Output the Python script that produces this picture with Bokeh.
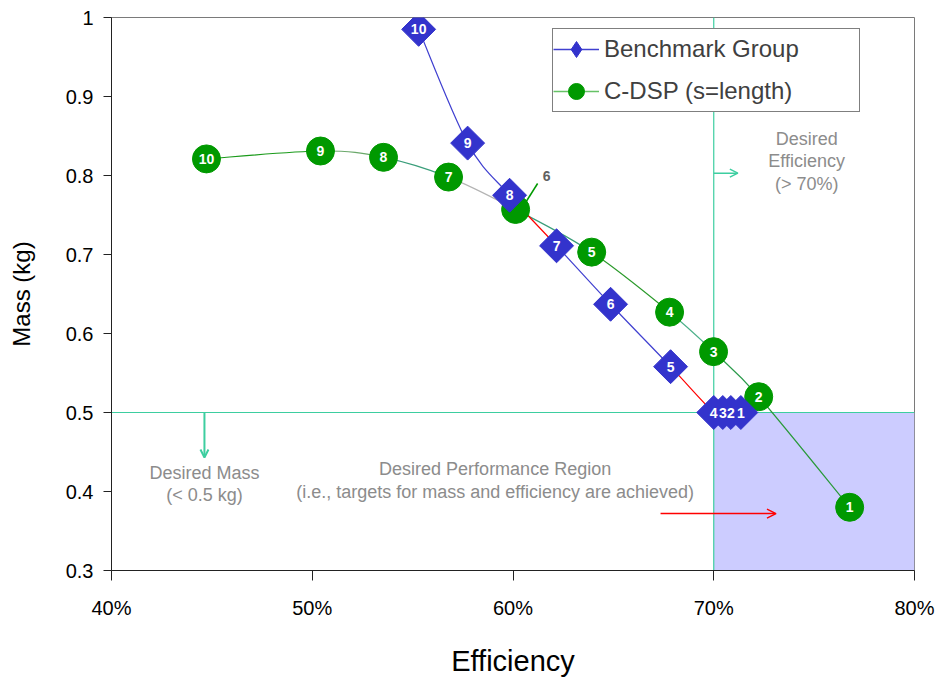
import numpy as np
from bokeh.plotting import figure
from bokeh.models import (ColumnDataSource, Span, Label, Arrow, OpenHead, Legend,
                          LegendItem, FixedTicker, BoxAnnotation)
from bokeh.embed import file_html
from bokeh.resources import INLINE
from bokeh.core.properties import value

# ---------------- data ----------------
bench_labels = ["1", "2", "3", "4", "5", "6", "7", "8", "9", "10"]
bench_eff = [71.35, 70.85, 70.45, 70.00, 67.85, 64.86, 62.17, 59.83, 57.74, 55.30]
bench_mass = [0.500, 0.500, 0.500, 0.500, 0.558, 0.637, 0.711, 0.775, 0.841, 0.985]

cdsp_labels = ["1", "2", "3", "4", "5", "6", "7", "8", "9", "10"]
cdsp_eff = [76.77, 72.24, 69.99, 67.80, 63.92, 60.13, 56.79, 53.55, 50.41, 44.73]
cdsp_mass = [0.380, 0.520, 0.577, 0.627, 0.703, 0.757, 0.798, 0.823, 0.831, 0.821]

x_ticks = [40, 50, 60, 70, 80]
x_tick_labels = ["40%", "50%", "60%", "70%", "80%"]
y_ticks = [0.3, 0.4, 0.5, 0.6, 0.7, 0.8, 0.9, 1.0]
y_tick_labels = ["0.3", "0.4", "0.5", "0.6", "0.7", "0.8", "0.9", "1"]

target_eff = 70.0
target_mass = 0.5

# styles
BLUE = "#3333cc"
BLUE_LINE = "#4040d0"
RED = "#ff0000"
GREEN = "#009900"
TEAL = "#3dcea0"
GRAY_TXT = "#8c8c8c"
bench_seg_colors = [BLUE_LINE, BLUE_LINE, BLUE_LINE, RED, BLUE_LINE, BLUE_LINE, RED, BLUE_LINE, BLUE_LINE]
cdsp_seg_colors = ["#2a9a3a", "#2a9a4a", "#4cb08a", "#2a9a2a", "#3a9e7a", "#b4b4b4",
                   "#3a9e7a", "#6aa86a", "#1a9a1a"]
FONT_NAME = "Liberation Sans"
FONT = value(FONT_NAME)

W, H = 943, 679
ML, MR, MT, MB = 111, 29, 17, 108
FW, FH = W - ML - MR, H - MT - MB
XR, YR = (40, 80), (0.3, 1.0)
dux = (XR[1] - XR[0]) / FW
duy = (YR[1] - YR[0]) / FH


def smooth_segments(xs, ys, colors):
    x = np.asarray(xs, float)
    y = np.asarray(ys, float)
    n = len(x)
    xp = np.concatenate([[x[0]], x, [x[-1]]])
    yp = np.concatenate([[y[0]], y, [y[-1]]])
    i = np.arange(n - 1)
    return ColumnDataSource(dict(
        x0=x[i], y0=y[i], x1=x[i + 1], y1=y[i + 1],
        cx0=x[i] + (xp[i + 2] - xp[i]) / 6, cy0=y[i] + (yp[i + 2] - yp[i]) / 6,
        cx1=x[i + 1] - (xp[i + 3] - xp[i + 1]) / 6, cy1=y[i + 1] - (yp[i + 3] - yp[i + 1]) / 6,
        color=colors))


p = figure(width=W, height=H, x_range=XR, y_range=YR, output_backend="svg",
           toolbar_location=None, min_border_left=ML, min_border_right=MR,
           min_border_top=MT, min_border_bottom=MB, background_fill_color="white",
           border_fill_color="white")
p.grid.visible = False
p.outline_line_color = "#7a7a7a"
p.outline_line_width = 1

# desired region and thresholds
p.add_layout(BoxAnnotation(left=target_eff, right=XR[1], bottom=YR[0], top=target_mass,
                           fill_color="#ccccff", fill_alpha=1.0, line_color=None, level="underlay"))
p.add_layout(Span(location=target_mass, dimension="width", line_color=TEAL, line_width=1.2,
                  level="underlay"))
p.add_layout(Span(location=target_eff, dimension="height", line_color=TEAL, line_width=1.2,
                  level="underlay"))

# smoothed connecting lines
p.bezier(x0="x0", y0="y0", x1="x1", y1="y1", cx0="cx0", cy0="cy0", cx1="cx1", cy1="cy1",
         line_color="color", line_width=1.2, source=smooth_segments(cdsp_eff, cdsp_mass, cdsp_seg_colors))
p.bezier(x0="x0", y0="y0", x1="x1", y1="y1", cx0="cx0", cy0="cy0", cx1="cx1", cy1="cy1",
         line_color="color", line_width=1.2, source=smooth_segments(bench_eff, bench_mass, bench_seg_colors))

# leader line for C-DSP label "6"
i6 = cdsp_labels.index("6")
p.segment(x0=[cdsp_eff[i6] + 10 * dux], y0=[cdsp_mass[i6] + 7 * duy],
          x1=[cdsp_eff[i6] + 22 * dux], y1=[cdsp_mass[i6] + 26 * duy],
          line_color=GREEN, line_width=1.5)

# markers
p.scatter(cdsp_eff, cdsp_mass, marker="circle", size=28, fill_color=GREEN, line_color=GREEN)
p.scatter(bench_eff, bench_mass, marker="square", angle=np.pi / 4, size=24,
          fill_color=BLUE, line_color=BLUE)

# in-marker labels
lab_x = [e for e, l in zip(cdsp_eff, cdsp_labels) if l != "6"]
lab_y = [m for m, l in zip(cdsp_mass, cdsp_labels) if l != "6"]
lab_t = [l for l in cdsp_labels if l != "6"]
p.text(lab_x, lab_y, text=lab_t, text_align="center", text_baseline="middle",
       text_color="white", text_font=FONT, text_font_style="bold", text_font_size="14px")
p.text(bench_eff, bench_mass, text=bench_labels, text_align="center", text_baseline="middle",
       text_color="white", text_font=FONT, text_font_style="bold", text_font_size="14px")
p.text([cdsp_eff[i6]], [cdsp_mass[i6]], text=["6"], x_offset=31, y_offset=-33,
       text_align="center", text_baseline="middle", text_color="#606060", text_font=FONT,
       text_font_style="bold", text_font_size="14px")

# legend-only renderers
leg_b_line = p.line(bench_eff, bench_mass, line_color=BLUE_LINE, line_width=1.5, visible=False)
leg_b_mark = p.scatter(bench_eff, bench_mass, marker="diamond", size=24,
                       fill_color=BLUE, line_color=BLUE, visible=False)
leg_c_line = p.line(cdsp_eff, cdsp_mass, line_color="#66c266", line_width=1.5, visible=False)
leg_c_mark = p.scatter(cdsp_eff, cdsp_mass, marker="circle", size=28, fill_color=GREEN,
                       line_color=GREEN, visible=False)
legend = Legend(items=[LegendItem(label="Benchmark Group", renderers=[leg_b_line, leg_b_mark]),
                       LegendItem(label="C-DSP (s=length)", renderers=[leg_c_line, leg_c_mark])],
                location=(441, 458), padding=0, spacing=2, glyph_width=46, glyph_height=40,
                label_standoff=5, label_width=255, label_text_font=FONT_NAME,
                label_text_font_size="24px", label_text_color="#404040",
                border_line_color="black", border_line_width=1, background_fill_color="white",
                background_fill_alpha=1.0, margin=0)
p.add_layout(legend, "center")

# annotations
def gray_label(x, y, t):
    p.add_layout(Label(x=x, y=y, text=t, text_align="center", text_baseline="middle",
                       text_font=FONT_NAME, text_font_size="18px", text_color=GRAY_TXT))

gray_label(74.63, 0.846, "Desired")
gray_label(74.63, 0.818, "Efficiency")
gray_label(74.63, 0.789, "(> 70%)")
gray_label(44.63, 0.424, "Desired Mass")
gray_label(44.63, 0.396, "(< 0.5 kg)")
gray_label(59.11, 0.428, "Desired Performance Region")
gray_label(59.11, 0.400, "(i.e., targets for mass and efficiency are achieved)")

p.add_layout(Arrow(end=OpenHead(size=8, line_color=TEAL, line_width=2), x_start=44.63,
                   y_start=target_mass, x_end=44.63, y_end=0.443, line_color=TEAL, line_width=2))
p.add_layout(Arrow(end=OpenHead(size=8, line_color=TEAL, line_width=1.5), x_start=target_eff,
                   y_start=0.803, x_end=71.2, y_end=0.803, line_color=TEAL, line_width=1.5))
p.add_layout(Arrow(end=OpenHead(size=9, line_color=RED, line_width=1.5), x_start=67.35,
                   y_start=0.372, x_end=73.1, y_end=0.372, line_color=RED, line_width=1.5))

# axes
p.xaxis.ticker = FixedTicker(ticks=x_ticks)
p.xaxis.major_label_overrides = dict(zip(x_ticks, x_tick_labels))
p.yaxis.ticker = FixedTicker(ticks=y_ticks)
p.yaxis.major_label_overrides = dict(zip(y_ticks, y_tick_labels))
p.xaxis.axis_label = "Efficiency"
p.yaxis.axis_label = "Mass (kg)"
for ax in (p.xaxis, p.yaxis):
    ax.axis_line_color = "#222222"
    ax.major_tick_line_color = "#222222"
    ax.minor_tick_line_color = None
    ax.major_tick_in = 0
    ax.major_label_text_font = FONT_NAME
    ax.major_label_text_font_size = "20px"
    ax.major_label_text_color = "black"
    ax.axis_label_text_font = FONT_NAME
    ax.axis_label_text_font_style = "normal"
    ax.axis_label_text_color = "black"
p.xaxis.major_tick_out = 10
p.yaxis.major_tick_out = 8
p.xaxis.major_label_standoff = 16
p.yaxis.major_label_standoff = 10
p.xaxis.axis_label_standoff = 23
p.yaxis.axis_label_standoff = 28
p.xaxis.axis_label_text_font_size = "29px"
p.yaxis.axis_label_text_font_size = "24px"

open("out.html", "w").write(file_html(p, INLINE))
